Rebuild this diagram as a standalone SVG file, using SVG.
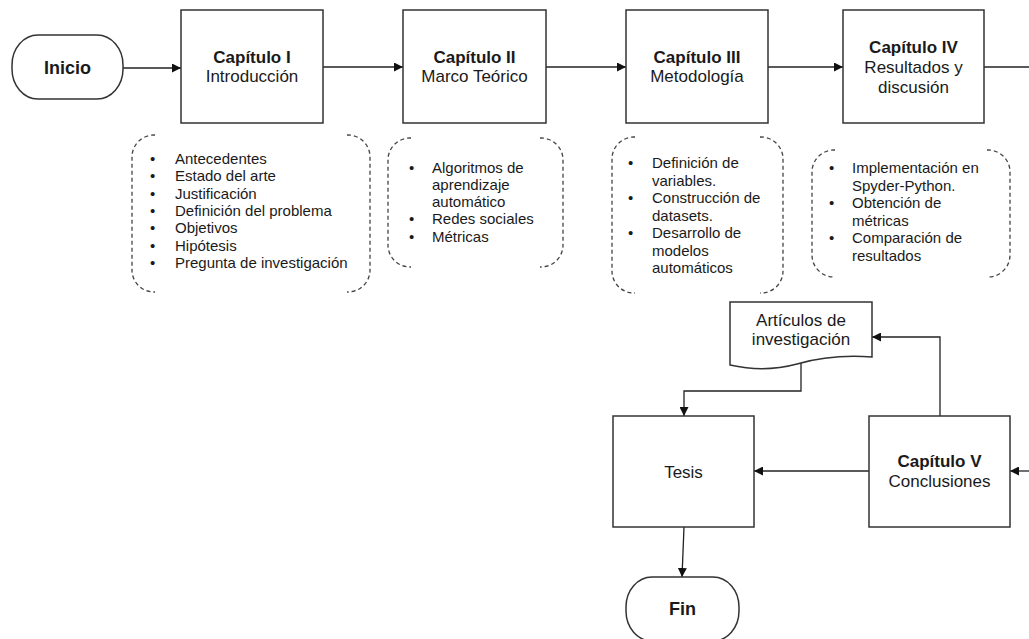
<svg xmlns="http://www.w3.org/2000/svg" width="1029" height="639" viewBox="0 0 1029 639">
<defs>
<marker id="arr" markerUnits="userSpaceOnUse" markerWidth="10" markerHeight="9" refX="9" refY="4.5" orient="auto">
<path d="M0,0 L9,4.5 L0,9 Z" fill="#111"/>
</marker>
<style>
.box{fill:#fff;stroke:#333;stroke-width:1.5}
.br{fill:none;stroke:#444;stroke-width:1.3;stroke-dasharray:4 3}
.con{fill:none;stroke:#222;stroke-width:1.3}
text{font-family:"Liberation Sans",Arial,sans-serif;fill:#1a1a1a}
.t{font-size:17px;text-anchor:middle}
.tb{font-size:17px;font-weight:bold;text-anchor:middle}
.term{font-size:18px;font-weight:bold;text-anchor:middle}
.li{font-size:15px}
</style>
</defs>
<rect width="1029" height="639" fill="#fff"/>

<g id="connectors">
<path class="con" d="M123,68 H181" marker-end="url(#arr)"/>
<path class="con" d="M323,67 H403" marker-end="url(#arr)"/>
<path class="con" d="M546,67 H626" marker-end="url(#arr)"/>
<path class="con" d="M768,67 H843" marker-end="url(#arr)"/>
<path class="con" d="M984,67 H1029"/>
<path class="con" d="M1029,471 H1010" marker-end="url(#arr)"/>
<path class="con" d="M869,471 H754" marker-end="url(#arr)"/>
<path class="con" d="M940,416 V337 H872" marker-end="url(#arr)"/>
<path class="con" d="M801,362 V391 H684 V416" marker-end="url(#arr)"/>
<path class="con" d="M684,527 L682,577" marker-end="url(#arr)"/>
</g>

<g id="inicio">
<rect class="box" x="12" y="35" width="111" height="64" rx="26" ry="30"/>
<text class="term" x="67.5" y="74">Inicio</text>
</g>

<g id="cap1">
<rect class="box" x="181" y="10" width="142" height="113"/>
<text class="tb" x="252" y="63">Capítulo I</text>
<text class="t" x="252" y="82">Introducción</text>
</g>

<g id="cap2">
<rect class="box" x="403" y="10" width="143" height="113"/>
<text class="tb" x="474.5" y="63">Capítulo II</text>
<text class="t" x="474.5" y="82">Marco Teórico</text>
</g>

<g id="cap3">
<rect class="box" x="626" y="10" width="142" height="113"/>
<text class="tb" x="697" y="63">Capítulo III</text>
<text class="t" x="697" y="82">Metodología</text>
</g>

<g id="cap4">
<rect class="box" x="843" y="10" width="141" height="113"/>
<text class="tb" x="913.5" y="53">Capítulo IV</text>
<text class="t" x="913.5" y="73">Resultados y</text>
<text class="t" x="913.5" y="93">discusión</text>
</g>

<g id="list1">
<path class="br" d="M155,135 H154 A22,22 0 0 0 132,157 V270 A22,22 0 0 0 154,292 H155"/>
<path class="br" d="M347,135 H348 A22,22 0 0 1 370,157 V270 A22,22 0 0 1 348,292 H347"/>
<text class="li"><tspan x="150" y="164">•</tspan><tspan x="175" y="164">Antecedentes</tspan></text>
<text class="li"><tspan x="150" y="181.3">•</tspan><tspan x="175" y="181.3">Estado del arte</tspan></text>
<text class="li"><tspan x="150" y="198.6">•</tspan><tspan x="175" y="198.6">Justificación</tspan></text>
<text class="li"><tspan x="150" y="216">•</tspan><tspan x="175" y="216">Definición del problema</tspan></text>
<text class="li"><tspan x="150" y="233.2">•</tspan><tspan x="175" y="233.2">Objetivos</tspan></text>
<text class="li"><tspan x="150" y="250.5">•</tspan><tspan x="175" y="250.5">Hipótesis</tspan></text>
<text class="li"><tspan x="150" y="268">•</tspan><tspan x="175" y="268">Pregunta de investigación</tspan></text>
</g>

<g id="list2">
<path class="br" d="M411,138 H410 A22,22 0 0 0 388,160 V245 A22,22 0 0 0 410,267 H411"/>
<path class="br" d="M540,138 H541 A22,22 0 0 1 563,160 V245 A22,22 0 0 1 541,267 H540"/>
<text class="li"><tspan x="409" y="172.5">•</tspan><tspan x="432" y="172.5">Algoritmos de</tspan></text>
<text class="li"><tspan x="432" y="189.8">aprendizaje</tspan></text>
<text class="li"><tspan x="432" y="207">automático</tspan></text>
<text class="li"><tspan x="409" y="224.3">•</tspan><tspan x="432" y="224.3">Redes sociales</tspan></text>
<text class="li"><tspan x="409" y="241.5">•</tspan><tspan x="432" y="241.5">Métricas</tspan></text>
</g>

<g id="list3">
<path class="br" d="M635,137 H634 A22,22 0 0 0 612,159 V271 A22,22 0 0 0 634,293 H635"/>
<path class="br" d="M760,137 H761 A22,22 0 0 1 783,159 V271 A22,22 0 0 1 761,293 H760"/>
<text class="li"><tspan x="628" y="168">•</tspan><tspan x="652" y="168">Definición de</tspan></text>
<text class="li"><tspan x="652" y="185.5">variables.</tspan></text>
<text class="li"><tspan x="628" y="203">•</tspan><tspan x="652" y="203">Construcción de</tspan></text>
<text class="li"><tspan x="652" y="220.5">datasets.</tspan></text>
<text class="li"><tspan x="628" y="238">•</tspan><tspan x="652" y="238">Desarrollo de</tspan></text>
<text class="li"><tspan x="652" y="255.5">modelos</tspan></text>
<text class="li"><tspan x="652" y="273">automáticos</tspan></text>
</g>

<g id="list4">
<path class="br" d="M835,150 H834 A22,22 0 0 0 812,172 V255 A22,22 0 0 0 834,277 H835"/>
<path class="br" d="M987,150 H988 A22,22 0 0 1 1010,172 V255 A22,22 0 0 1 988,277 H987"/>
<text class="li"><tspan x="829" y="173">•</tspan><tspan x="852" y="173">Implementación en</tspan></text>
<text class="li"><tspan x="852" y="190.5">Spyder-Python.</tspan></text>
<text class="li"><tspan x="829" y="208">•</tspan><tspan x="852" y="208">Obtención de</tspan></text>
<text class="li"><tspan x="852" y="225.5">métricas</tspan></text>
<text class="li"><tspan x="829" y="243">•</tspan><tspan x="852" y="243">Comparación de</tspan></text>
<text class="li"><tspan x="852" y="260.5">resultados</tspan></text>
</g>

<g id="articulos">
<path class="box" d="M730,302 H872 V357 C845,355 818,358 797,364 C775,370 752,370 730,365 Z"/>
<text class="t" x="801" y="326">Artículos de</text>
<text class="t" x="801" y="345">investigación</text>
</g>

<g id="tesis">
<rect class="box" x="613" y="416" width="141" height="111"/>
<text class="t" x="683.5" y="478">Tesis</text>
</g>

<g id="cap5">
<rect class="box" x="869" y="416" width="141" height="111"/>
<text class="tb" x="939.5" y="467">Capítulo V</text>
<text class="t" x="939.5" y="487">Conclusiones</text>
</g>

<g id="fin">
<rect class="box" x="626" y="577" width="113" height="64" rx="26" ry="30"/>
<text class="term" x="682.5" y="615">Fin</text>
</g>
</svg>
